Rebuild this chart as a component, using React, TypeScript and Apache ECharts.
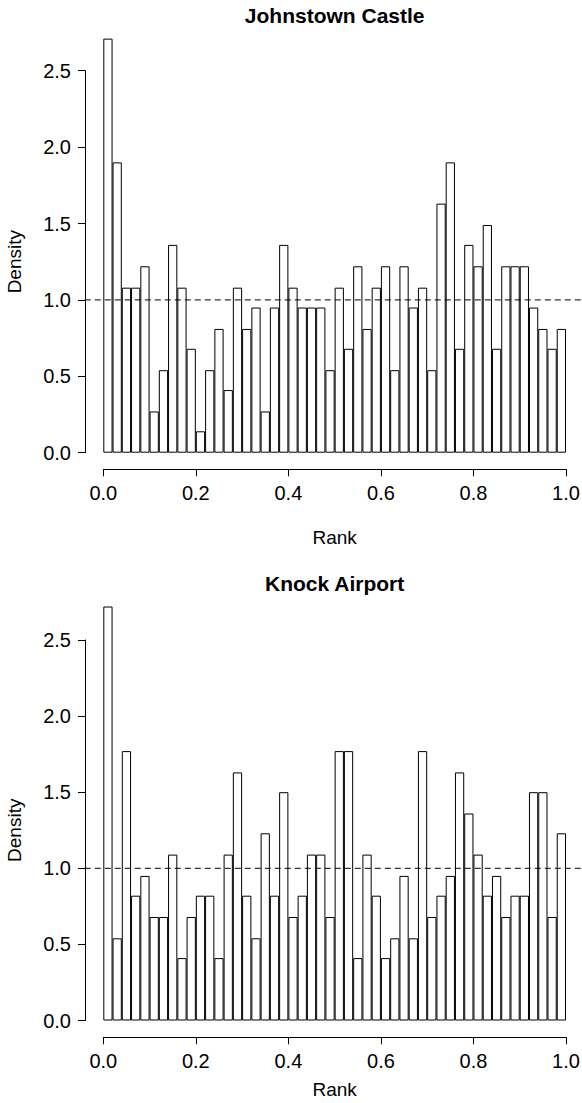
import React, { useEffect, useRef } from "react";
import * as echarts from "echarts";

// ---- data ----
const panelTitles = ["Johnstown Castle", "Knock Airport"];

// 50 rank bins of width 0.02 on [0, 1]
const binLabels = Array.from(
  { length: 50 },
  (_, i) => `${(i * 0.02).toFixed(2)}–${((i + 1) * 0.02).toFixed(2)}`
);

const johnstownDensity = [
  2.71, 1.9, 1.08, 1.08, 1.22, 0.27, 0.54, 1.36, 1.08, 0.68,
  0.14, 0.54, 0.81, 0.41, 1.08, 0.81, 0.95, 0.27, 0.95, 1.36,
  1.08, 0.95, 0.95, 0.95, 0.54, 1.08, 0.68, 1.22, 0.81, 1.08,
  1.22, 0.54, 1.22, 0.95, 1.08, 0.54, 1.63, 1.9, 0.68, 1.36,
  1.22, 1.49, 0.68, 1.22, 1.22, 1.22, 0.95, 0.81, 0.68, 0.81,
];

const knockDensity = [
  2.72, 0.54, 1.77, 0.82, 0.95, 0.68, 0.68, 1.09, 0.41, 0.68,
  0.82, 0.82, 0.41, 1.09, 1.63, 0.82, 0.54, 1.23, 0.82, 1.5,
  0.68, 0.82, 1.09, 1.09, 0.68, 1.77, 1.77, 0.41, 1.09, 0.82,
  0.41, 0.54, 0.95, 0.54, 1.77, 0.68, 0.82, 0.95, 1.63, 1.36,
  1.09, 0.82, 0.95, 0.68, 0.82, 0.82, 1.5, 1.5, 0.68, 1.23,
];

const panelData = [johnstownDensity, knockDensity];

// uniform reference density (dashed line), spanning the whole plot region
const refDensity = 1;
const plotRegionX = [-0.04, 1.04];

// axis ticks
const rankMin = 0;
const rankMax = 1;
const rankStep = 0.2;
const densityMin = 0;
const densityMax = 2.5;
const densityStep = 0.5;

// ---- layout / style ----
const FONT = '"Liberation Sans", Arial, Helvetica, sans-serif';
const PX_PER_RANK = 462.7;
const layout = [
  { left: 103.3, top: 70.7, height: 382, xOffset: 16.6, titleY: 15, nameGap: 59 },
  { left: 103.3, top: 640, height: 380.5, xOffset: 16.8, titleY: 583, nameGap: 43 },
];

const black = "#000000";

export default function App() {
  const ref = useRef<HTMLDivElement>(null);

  useEffect(() => {
    if (!ref.current) return;
    const chart = echarts.init(ref.current, undefined, { renderer: "svg" });

    const grid: any[] = [];
    // main panel grids (0, 1)
    layout.forEach((l) => {
      grid.push({
        left: l.left,
        top: l.top,
        width: PX_PER_RANK,
        height: l.height,
        containLabel: false,
        outerBoundsMode: "none",
      });
    });
    // full plot-region grids for the reference lines (2, 3)
    layout.forEach((l) => {
      grid.push({
        left: l.left + plotRegionX[0] * PX_PER_RANK,
        top: l.top,
        width: (plotRegionX[1] - plotRegionX[0]) * PX_PER_RANK,
        height: l.height,
        containLabel: false,
        outerBoundsMode: "none",
      });
    });

    const xAxis: any[] = [];
    const yAxis: any[] = [];
    const series: any[] = [];

    const labelStyle = {
      margin: 14,
      fontSize: 20,
      fontFamily: FONT,
      color: black,
      formatter: (v: number) => v.toFixed(1),
    };
    const nameStyle = { fontSize: 19, fontFamily: FONT, color: black };

    layout.forEach((l, i) => {
      xAxis.push({
        type: "category",
        gridIndex: i,
        data: binLabels,
        show: false,
        position: "top",
        boundaryGap: true,
      });
      xAxis.push({
        type: "value",
        gridIndex: i,
        position: "bottom",
        min: rankMin,
        max: rankMax,
        interval: rankStep,
        offset: l.xOffset,
        axisLine: { show: true, onZero: false, lineStyle: { color: black, width: 1 } },
        axisTick: { show: true, length: 7, lineStyle: { color: black, width: 1 } },
        axisLabel: labelStyle,
        splitLine: { show: false },
        name: "Rank",
        nameLocation: "middle",
        nameGap: l.nameGap,
        nameTextStyle: nameStyle,
      });
      yAxis.push({
        type: "value",
        gridIndex: i,
        position: "left",
        min: densityMin,
        max: densityMax,
        interval: densityStep,
        offset: 18.3,
        axisLine: { show: true, onZero: false, lineStyle: { color: black, width: 1 } },
        axisTick: { show: true, length: 7, lineStyle: { color: black, width: 1 } },
        axisLabel: labelStyle,
        splitLine: { show: false },
        name: "Density",
        nameLocation: "middle",
        nameRotate: 90,
        nameGap: 61,
        nameTextStyle: nameStyle,
      });

      series.push({
        type: "bar",
        xAxisIndex: 2 * i,
        yAxisIndex: i,
        data: panelData[i],
        barCategoryGap: "0%",
        barGap: "0%",
        clip: false,
        silent: true,
        itemStyle: { color: "#ffffff", borderColor: black, borderWidth: 1 },
      });
    });

    layout.forEach((l, i) => {
      xAxis.push({
        type: "value",
        gridIndex: 2 + i,
        min: plotRegionX[0],
        max: plotRegionX[1],
        show: false,
      });
      yAxis.push({
        type: "value",
        gridIndex: 2 + i,
        min: densityMin,
        max: densityMax,
        show: false,
      });
      series.push({
        type: "line",
        xAxisIndex: 4 + i,
        yAxisIndex: 2 + i,
        data: [
          [plotRegionX[0], refDensity],
          [plotRegionX[1], refDensity],
        ],
        symbol: "none",
        silent: true,
        z: 5,
        lineStyle: { color: black, width: 1, type: [6, 4] },
      });
    });

    const graphic = panelTitles.map((t, i) => ({
      type: "text",
      x: layout[i].left + PX_PER_RANK / 2,
      y: layout[i].titleY,
      style: {
        text: t,
        font: `bold 21px ${FONT}`,
        fill: black,
        align: "center",
        verticalAlign: "middle",
      },
    }));

    chart.setOption({
      animation: false,
      backgroundColor: "#ffffff",
      grid,
      xAxis,
      yAxis,
      series,
      graphic,
    });

    return () => chart.dispose();
  }, []);

  return (
    <div
      ref={ref}
      style={{ position: "absolute", left: 0, top: 0, width: 582, height: 1103 }}
    />
  );
}
